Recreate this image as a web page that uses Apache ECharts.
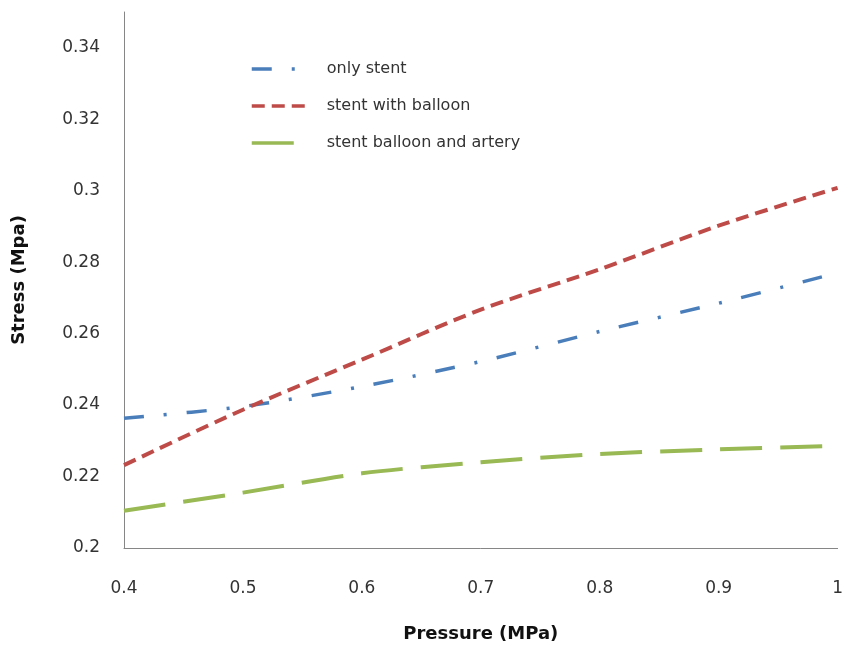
<!DOCTYPE html>
<html>
<head>
<meta charset="utf-8">
<script src="https://cdn.jsdelivr.net/npm/echarts@6/dist/echarts.min.js"></script>
<style>
html,body{margin:0;padding:0;background:#fff;}
#chart{width:846px;height:651px;}
</style>
</head>
<body>
<div id="chart"></div>
<script>
const pressure = [0.4, 0.5, 0.6, 0.7, 0.8, 0.9, 1.0];
const onlyStent = [0.2363, 0.2396, 0.2452, 0.2522, 0.2606, 0.2685, 0.2770];
const stentWithBalloon = [0.2232, 0.2387, 0.2527, 0.2667, 0.2780, 0.2902, 0.3008];
const stentBalloonArtery = [0.2104, 0.2155, 0.2209, 0.2240, 0.2263, 0.2276, 0.2286];
const seriesNames = ['only stent', 'stent with balloon', 'stent balloon and artery'];

const pair = arr => pressure.map((x, i) => [x, arr[i]]);
const font = 'DejaVu Sans';

const chart = echarts.init(document.getElementById('chart'));
chart.setOption({
  backgroundColor: '#ffffff',
  animation: false,
  grid: { left: 124, right: 8, top: 12, bottom: 103 },
  legend: {
    orient: 'vertical',
    left: 245,
    top: 56,
    itemWidth: 58,
    itemHeight: 14,
    itemGap: 21,
    itemStyle: { color: 'rgba(0,0,0,0)', borderWidth: 0, opacity: 0 },
    lineStyle: { width: 3.5 },
    textStyle: { fontFamily: font, fontSize: 16, color: '#333', padding: [0, 0, 0, 12] },
    data: seriesNames
  },
  xAxis: {
    type: 'value',
    min: 0.4,
    max: 1,
    interval: 0.1,
    name: 'Pressure (MPa)',
    nameLocation: 'middle',
    nameGap: 77,
    nameTextStyle: { fontFamily: font, fontSize: 18, fontWeight: 'bold', color: '#111' },
    axisLine: { show: true, lineStyle: { color: '#868686', width: 1 } },
    axisTick: { show: false },
    splitLine: { show: false },
    axisLabel: { fontFamily: font, fontSize: 17, color: '#333', margin: 32 }
  },
  yAxis: {
    type: 'value',
    min: 0.2,
    max: 0.35,
    interval: 0.02,
    name: 'Stress (Mpa)',
    nameLocation: 'middle',
    nameGap: 96,
    nameTextStyle: { fontFamily: font, fontSize: 18, fontWeight: 'bold', color: '#111' },
    axisLine: { show: true, lineStyle: { color: '#868686', width: 1 } },
    axisTick: { show: false },
    splitLine: { show: false },
    axisLabel: { fontFamily: font, fontSize: 17, color: '#333', margin: 24, showMaxLabel: false }
  },
  series: [
    {
      name: seriesNames[0], type: 'line', data: pair(onlyStent), smooth: 0.3,
      symbol: 'none', color: '#4a7ebb',
      lineStyle: { color: '#4a7ebb', width: 3.5, type: [20, 20, 3, 20] }
    },
    {
      name: seriesNames[1], type: 'line', data: pair(stentWithBalloon), smooth: 0.3,
      symbol: 'none', color: '#be4b48',
      lineStyle: { color: '#be4b48', width: 4, type: [13, 7] }
    },
    {
      name: seriesNames[2], type: 'line', data: pair(stentBalloonArtery), smooth: 0.3,
      symbol: 'none', color: '#98b954',
      lineStyle: { color: '#98b954', width: 4, type: [42, 18] }
    }
  ]
});
</script>
</body>
</html>
